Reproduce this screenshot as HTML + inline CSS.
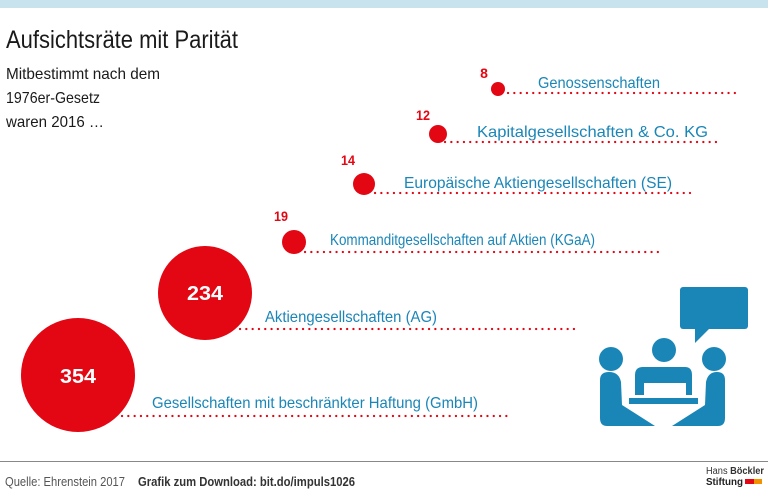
<!DOCTYPE html>
<html><head><meta charset="utf-8"><style>
html,body{margin:0;padding:0;background:#fff;}
svg{display:block;font-family:"Liberation Sans",sans-serif;}
</style></head><body>
<svg width="768" height="491" viewBox="0 0 768 491" xmlns="http://www.w3.org/2000/svg">
<rect x="0" y="0" width="768" height="8" fill="#c9e3ee"/>
<text x="6" y="48" font-size="25" fill="#1a1a1a" textLength="232" lengthAdjust="spacingAndGlyphs">Aufsichtsräte mit Parität</text>
<text x="6" y="79" font-size="16" fill="#1a1a1a" textLength="154" lengthAdjust="spacingAndGlyphs">Mitbestimmt nach dem</text>
<text x="6" y="103" font-size="16" fill="#1a1a1a" textLength="94" lengthAdjust="spacingAndGlyphs">1976er-Gesetz</text>
<text x="6" y="127" font-size="16" fill="#1a1a1a" textLength="98" lengthAdjust="spacingAndGlyphs">waren 2016 …</text>
<g stroke="#e30613" stroke-width="2.2" stroke-dasharray="0.1 6.2" stroke-linecap="round">
<line x1="122" y1="416" x2="512" y2="416"/>
<line x1="240" y1="329" x2="578" y2="329"/>
<line x1="305" y1="252" x2="662" y2="252"/>
<line x1="375" y1="193" x2="690" y2="193"/>
<line x1="445" y1="142" x2="718" y2="142"/>
<line x1="508" y1="93" x2="738" y2="93"/>
</g>
<g fill="#e30613">
<circle cx="78" cy="375" r="57"/>
<circle cx="205" cy="293" r="47"/>
<circle cx="294" cy="242" r="12"/>
<circle cx="364" cy="184" r="11"/>
<circle cx="438" cy="134" r="9"/>
<circle cx="498" cy="89" r="7"/>
</g>
<g font-size="20" font-weight="bold" fill="#fff" text-anchor="middle">
<text x="78" y="383" textLength="36" lengthAdjust="spacingAndGlyphs">354</text>
<text x="205" y="300" textLength="36" lengthAdjust="spacingAndGlyphs">234</text>
</g>
<g font-size="14" font-weight="bold" fill="#e30613" text-anchor="middle">
<text x="281" y="221" textLength="14" lengthAdjust="spacingAndGlyphs">19</text>
<text x="348" y="165" textLength="14" lengthAdjust="spacingAndGlyphs">14</text>
<text x="423" y="120" textLength="14" lengthAdjust="spacingAndGlyphs">12</text>
<text x="484" y="78">8</text>
</g>
<g font-size="16" fill="#1a86b8">
<text x="538" y="88" textLength="122" lengthAdjust="spacingAndGlyphs">Genossenschaften</text>
<text x="477" y="137" textLength="231" lengthAdjust="spacingAndGlyphs">Kapitalgesellschaften &amp; Co. KG</text>
<text x="404" y="188" textLength="268" lengthAdjust="spacingAndGlyphs">Europäische Aktiengesellschaften (SE)</text>
<text x="330" y="245" textLength="265" lengthAdjust="spacingAndGlyphs">Kommanditgesellschaften auf Aktien (KGaA)</text>
<text x="265" y="322" textLength="172" lengthAdjust="spacingAndGlyphs">Aktiengesellschaften (AG)</text>
<text x="152" y="408" textLength="326" lengthAdjust="spacingAndGlyphs">Gesellschaften mit beschränkter Haftung (GmbH)</text>
</g>
<g fill="#1a86b8">
<rect x="680" y="287" width="68" height="42" rx="3"/>
<polygon points="695,328 695,343 710,328"/>
<circle cx="611" cy="359" r="12"/>
<circle cx="664" cy="350" r="12"/>
<circle cx="714" cy="359" r="12"/>
<path d="M635,400 L635,375 Q635,367 643,367 L685,367 Q692,367 692,375 L692,395 L686,395 L686,383 L644,383 L644,395 L635,395 Z"/>
<rect x="629" y="398" width="69" height="6"/>
<path d="M600,380 Q600,372 609,372 Q619,372 621,382 L622,405 L655,426 L607,426 Q600,426 600,418 Z"/>
<path d="M725,380 Q725,372 717,372 Q708,372 706,382 L705,405 L672,426 L718,426 Q725,426 725,418 Z"/>
</g>
<line x1="0" y1="461.5" x2="768" y2="461.5" stroke="#888" stroke-width="1"/>
<text x="5" y="486" font-size="13" fill="#555" textLength="120" lengthAdjust="spacingAndGlyphs">Quelle: Ehrenstein 2017</text>
<text x="138" y="486" font-size="13" font-weight="bold" fill="#333" textLength="217" lengthAdjust="spacingAndGlyphs">Grafik zum Download: bit.do/impuls1026</text>
<text x="706" y="474" font-size="10" fill="#333" textLength="58" lengthAdjust="spacingAndGlyphs">Hans <tspan font-weight="bold">Böckler</tspan></text>
<text x="706" y="485" font-size="10" font-weight="bold" fill="#222" textLength="37" lengthAdjust="spacingAndGlyphs">Stiftung</text>
<rect x="745" y="479" width="9" height="5" fill="#e30613"/>
<rect x="754" y="479" width="8" height="5" fill="#f39200"/>
</svg>
</body></html>
